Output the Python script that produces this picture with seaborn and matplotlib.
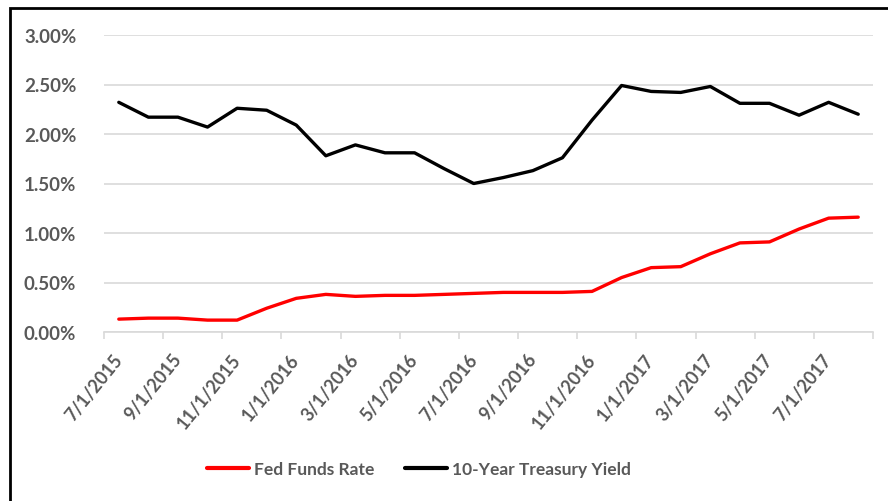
import numpy as np
import pandas as pd
import matplotlib
matplotlib.use("Agg")
import matplotlib.pyplot as plt
import seaborn as sns
from matplotlib.patches import Rectangle

# monthly observations, 7/1/2015 .. 8/1/2017
dates = ["7/1/2015", "8/1/2015", "9/1/2015", "10/1/2015", "11/1/2015", "12/1/2015",
         "1/1/2016", "2/1/2016", "3/1/2016", "4/1/2016", "5/1/2016", "6/1/2016",
         "7/1/2016", "8/1/2016", "9/1/2016", "10/1/2016", "11/1/2016", "12/1/2016",
         "1/1/2017", "2/1/2017", "3/1/2017", "4/1/2017", "5/1/2017", "6/1/2017",
         "7/1/2017", "8/1/2017"]

fed_funds = [0.13, 0.14, 0.14, 0.12, 0.12, 0.24, 0.34, 0.38, 0.36, 0.37, 0.37, 0.38,
             0.39, 0.40, 0.40, 0.40, 0.41, 0.55, 0.65, 0.66, 0.79, 0.90, 0.91, 1.04,
             1.15, 1.16]

treasury_10y = [2.32, 2.17, 2.17, 2.07, 2.26, 2.24, 2.09, 1.78, 1.89, 1.81, 1.81, 1.65,
                1.50, 1.56, 1.63, 1.76, 2.14, 2.49, 2.43, 2.42, 2.48, 2.31, 2.31, 2.19,
                2.32, 2.20]

series_names = ["Fed Funds Rate", "10-Year Treasury Yield"]
series_colors = ["#ff0000", "#000000"]

df = pd.DataFrame({
    "idx": list(range(len(dates))) * 2,
    "rate": fed_funds + treasury_10y,
    "series": [series_names[0]] * len(dates) + [series_names[1]] * len(dates),
})

sns.set_theme(style="white")
plt.rcParams["font.family"] = ["Lato", "DejaVu Sans"]

fig = plt.figure(figsize=(8.88, 5.02), dpi=100)
W, H = 888, 502
ax = fig.add_axes([104 / W, 1 - 333 / H, (873 - 104) / W, (333 - 36) / H])

sns.lineplot(data=df, x="idx", y="rate", hue="series", palette=series_colors,
             hue_order=series_names, linewidth=2.4, ax=ax, legend=False)

ax.set_xlim(-0.5, len(dates) - 0.5)
ax.set_ylim(0, 3.0)
ax.set_xlabel("")
ax.set_ylabel("")

grey = "#595959"
yt = np.arange(0, 3.01, 0.5)
ax.set_yticks(yt)
ax.set_yticklabels([f"{v:.2f}%" for v in yt], color=grey, fontsize=13.5,
                   fontweight="bold")
ax.tick_params(axis="y", length=0, pad=20)
ax.grid(axis="y", color="#d9d9d9", linewidth=1.2)
ax.set_axisbelow(True)

# labels every other month, tick marks at category boundaries
ax.set_xticks(range(0, len(dates), 2))
ax.set_xticklabels(dates[::2], rotation=51, ha="right", va="center",
                   rotation_mode="anchor", color=grey, fontsize=13,
                   fontweight="bold")
ax.tick_params(axis="x", which="major", length=0, pad=17)
ax.set_xticks(np.arange(-0.5, len(dates), 2), minor=True)
ax.tick_params(axis="x", which="minor", length=5, width=1.2, color="#d9d9d9",
               bottom=True)

for s in ["top", "right", "left"]:
    ax.spines[s].set_visible(False)
ax.spines["bottom"].set_color("#d9d9d9")
ax.spines["bottom"].set_linewidth(1.2)

handles = [plt.Line2D([], [], color=c, linewidth=3) for c in series_colors]
fig.legend(handles, series_names, loc="center", bbox_to_anchor=(419 / W, 1 - 470 / H),
           ncol=2, frameon=False, handlelength=2.4, handletextpad=0.3,
           columnspacing=1.8, prop={"size": 12.5, "weight": "bold"},
           labelcolor=grey)

# outer chart frame (continues past the right and bottom edges)
fig.patches.append(Rectangle((10 / W, -0.1), 1.0, 1 - 9 / H + 0.1,
                             transform=fig.transFigure, fill=False,
                             edgecolor="black", linewidth=2))

fig.savefig("out.png", dpi=100)
